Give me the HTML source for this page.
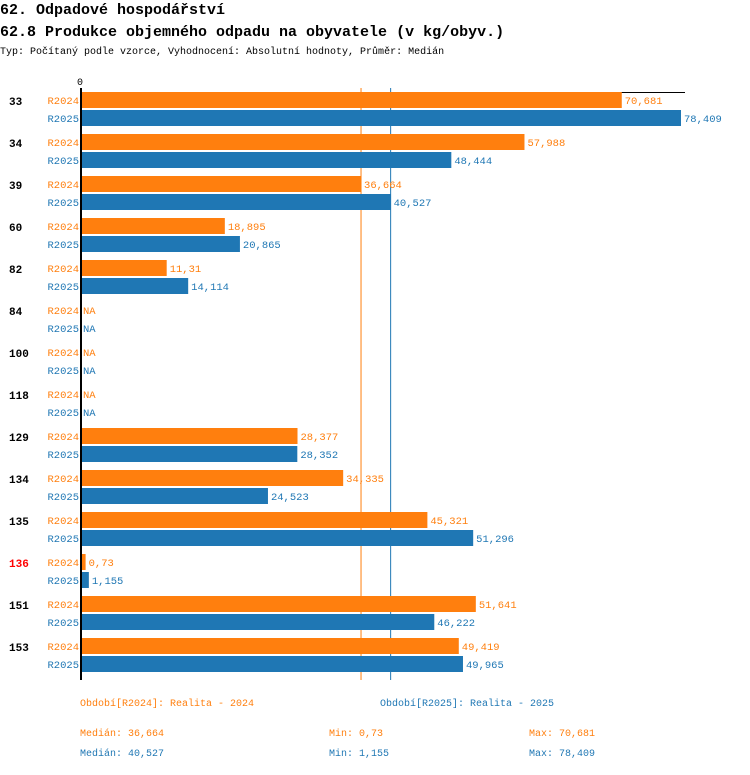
<!DOCTYPE html>
<html><head><meta charset="utf-8"><style>
body{margin:0;background:#fff;width:750px;height:770px;overflow:hidden;font-family:"Liberation Mono",monospace}
</style></head><body>
<svg width="750" height="770" xmlns="http://www.w3.org/2000/svg" font-family="Liberation Mono, monospace">
<text x="0" y="14" font-size="15" font-weight="bold">62. Odpadové hospodářství</text>
<text x="0" y="36" font-size="15" font-weight="bold">62.8 Produkce objemného odpadu na obyvatele (v kg/obyv.)</text>
<text x="0" y="54" font-size="10">Typ: Počítaný podle vzorce, Vyhodnocení: Absolutní hodnoty, Průměr: Medián</text>
<g id="plot"></g>
<g font-size="10">
<text x="80" y="706" fill="#ff7f0e">Období[R2024]: Realita - 2024</text>
<text x="380" y="706" fill="#1f77b4">Období[R2025]: Realita - 2025</text>
<text x="80" y="736" fill="#ff7f0e">Medián: 36,664</text>
<text x="329" y="736" fill="#ff7f0e">Min: 0,73</text>
<text x="529" y="736" fill="#ff7f0e">Max: 70,681</text>
<text x="80" y="756" fill="#1f77b4">Medián: 40,527</text>
<text x="329" y="756" fill="#1f77b4">Min: 1,155</text>
<text x="529" y="756" fill="#1f77b4">Max: 78,409</text>
</g>
</svg>
<script>
const categories=["33","34","39","60","82","84","100","118","129","134","135","136","151","153"];
const highlighted=["136"];
const r2024=[70.681,57.988,36.664,18.895,11.31,null,null,null,28.377,34.335,45.321,0.73,51.641,49.419];
const r2025=[78.409,48.444,40.527,20.865,14.114,null,null,null,28.352,24.523,51.296,1.155,46.222,49.965];
const medians=[36.664,40.527];
const seriesNames=["R2024","R2025"];
const colors=["#ff7f0e","#1f77b4"];
(function(){
const NS="http://www.w3.org/2000/svg";
const g=document.getElementById('plot');
const x0=80,scale=(681-80)/78.409;
const xs=v=>x0+v*scale;
const groupY=i=>92+42*i;
function mk(t,a){const e=document.createElementNS(NS,t);for(const k in a)e.setAttribute(k,a[k]);g.appendChild(e);return e;}
function fmt(v){return String(v).replace('.',',');}
const zl=mk('text',{x:77,y:85,'font-size':10});zl.textContent='0';


medians.forEach((m,s)=>{
  const l=mk('line',{x1:xs(m),y1:88,x2:xs(m),y2:680,stroke:colors[s],'stroke-width':1});
  
  
});
const topLine=mk('line',{x1:80,y1:92.5,x2:685,y2:92.5,stroke:'#000','stroke-width':1});


[r2024,r2025].forEach((ser,s)=>{
  ser.forEach((v,i)=>{
    const y=groupY(i)+s*18;
    const lab=mk('text',{x:79,y:y+12,'font-size':10.5,fill:colors[s],'text-anchor':'end'});
    lab.textContent=seriesNames[s];
    
    
    if(v!=null){
      const r=mk('rect',{x:x0,y:y,width:xs(v)-x0,height:16,fill:colors[s]});
      
      
    }
    const t=mk('text',{x:(v!=null?xs(v):x0)+3,y:y+12,'font-size':10.5,fill:colors[s]});
    t.textContent=v!=null?fmt(v):'NA';
    
    
  });
});
categories.forEach((c,i)=>{
  const t=mk('text',{x:9,y:groupY(i)+13,'font-size':11,'font-weight':'bold',fill:highlighted.includes(c)?'#ff0000':'#000'});
  t.textContent=c;
  
  
});
const ax=mk('line',{x1:81,y1:88,x2:81,y2:680,stroke:'#000','stroke-width':2});


})();
</script>
</body></html>
